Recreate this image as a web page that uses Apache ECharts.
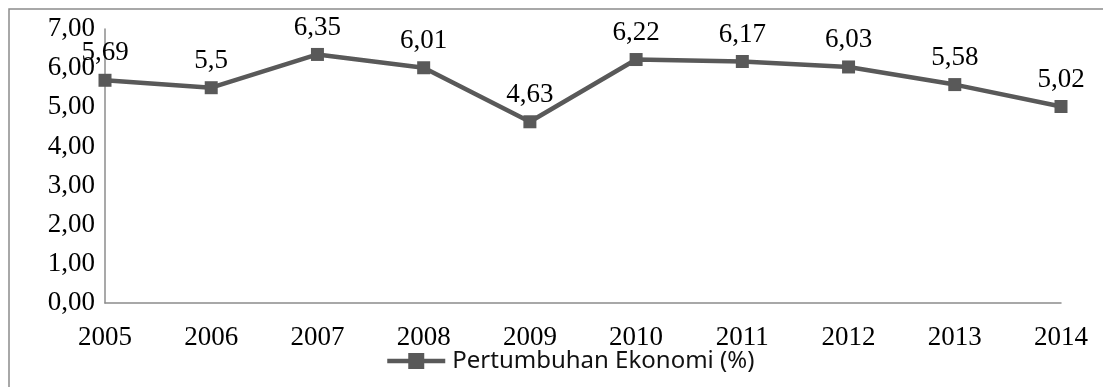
<!DOCTYPE html>
<html>
<head>
<meta charset="utf-8">
<script src="https://cdn.jsdelivr.net/npm/echarts@6/dist/echarts.min.js"></script>
<style>
  html, body { margin: 0; padding: 0; background: #fff; }
  #chart { width: 1103px; height: 387px; }
</style>
</head>
<body>
<div id="chart"></div>
<script>
// Indonesian economic growth, 2005–2014
const years = ['2005', '2006', '2007', '2008', '2009', '2010', '2011', '2012', '2013', '2014'];
const growth = [5.69, 5.5, 6.35, 6.01, 4.63, 6.22, 6.17, 6.03, 5.58, 5.02];
const seriesName = 'Pertumbuhan Ekonomi (%)';

const serif = '"Liberation Serif", "Times New Roman", serif';
const lineColor = '#595959';
const axisColor = '#8c8c8c';

// Comma decimal separator
const fmtTick = v => v.toFixed(2).replace('.', ',');
const fmtValue = v => String(v).replace('.', ',');

const chart = echarts.init(document.getElementById('chart'), null, { renderer: 'canvas' });
chart.setOption({
  backgroundColor: '#fff',
  animation: false,
  graphic: [{
    type: 'rect',
    shape: { x: 9, y: 9, width: 1200, height: 500 },
    style: { fill: 'none', stroke: axisColor, lineWidth: 1.5 },
    silent: true
  }],
  grid: { left: 105, right: 42, top: 29, bottom: 84, containLabel: false },
  legend: {
    data: [{ name: seriesName }],
    left: 380,
    top: 344,
    itemWidth: 58,
    itemHeight: 20,
    itemStyle: { color: lineColor },
    lineStyle: { color: lineColor, width: 4.5 },
    textStyle: { fontFamily: '"Noto Sans", sans-serif', fontSize: 24, color: '#111', padding: [0, 0, 0, 2] }
  },
  xAxis: {
    type: 'category',
    data: years,
    boundaryGap: false,
    axisLine: { lineStyle: { color: axisColor, width: 1.5 } },
    axisTick: { show: false },
    axisLabel: { fontFamily: serif, fontSize: 27, color: '#000', margin: 21 }
  },
  yAxis: {
    type: 'value',
    min: 0,
    max: 7,
    interval: 1,
    axisLine: { show: true, lineStyle: { color: axisColor, width: 1.5 } },
    axisTick: { show: false },
    splitLine: { show: false },
    axisLabel: { fontFamily: serif, fontSize: 27, color: '#000', margin: 10, formatter: fmtTick }
  },
  series: [{
    name: seriesName,
    type: 'line',
    data: growth,
    symbol: 'rect',
    symbolSize: 13,
    lineStyle: { color: lineColor, width: 4.5 },
    itemStyle: { color: lineColor },
    label: {
      show: true,
      position: 'top',
      distance: 7,
      fontFamily: serif,
      fontSize: 27,
      color: '#000',
      formatter: p => fmtValue(p.value)
    }
  }]
});
</script>
</body>
</html>
